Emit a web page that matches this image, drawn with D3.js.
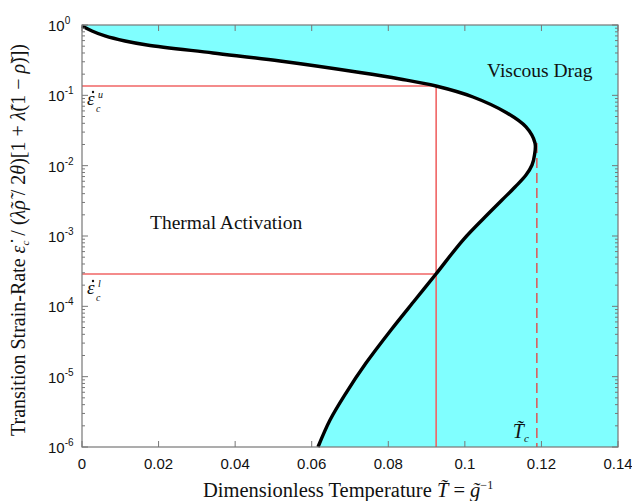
<!DOCTYPE html>
<html>
<head>
<meta charset="utf-8">
<script src="https://cdn.jsdelivr.net/npm/d3@7"></script>
<style>
	body { margin: 0; background: #fff; }
	.tick-lbl { font-family: "Liberation Sans", Arial, sans-serif; font-size: 15px; fill: #111; }
	.serif { font-family: "Liberation Serif", "Times New Roman", serif; fill: #111; }
</style>
</head>
<body>
<svg width="632" height="501"></svg>
<script>
// данные кривой перехода (T, strain-rate)
let curveT = [0, 0.00261, 0.00601, 0.01123, 0.01698, 0.03422, 0.05172, 0.07261, 0.08306, 0.09246, 0.10213,
	0.11101, 0.11597, 0.11832, 0.11819, 0.11754, 0.11597, 0.11310, 0.10970, 0.10630, 0.09951, 0.09246,
	0.08698, 0.08071, 0.07418, 0.06895, 0.06478, 0.06164];
let curveRate = [0.968, 0.822, 0.698, 0.592, 0.520, 0.400, 0.3077, 0.2112, 0.1707, 0.1357, 0.0947,
	0.0561, 0.0355, 0.0210, 0.01418, 0.01022, 0.00736, 0.00497, 0.00325, 0.00212, 0.000877, 0.000288,
	0.000123, 4.61e-5, 1.56e-5, 5.85e-6, 2.42e-6, 1e-6];
// ось X и Y
let xTicks = [0, 0.02, 0.04, 0.06, 0.08, 0.1, 0.12, 0.14];
let yExp = [0, -1, -2, -3, -4, -5, -6];
// опорные линии
let rateUpper = 0.1357;
let rateLower = 2.88e-4;
let tCross = 0.0925;
let tCrit = 0.1188;
let rateCrit = 0.021;

let marginX = 82;
let marginY = 25;
let width = 536;
let height = 422;

let svg = d3.select("svg");
let g = svg.append("g").attr("transform", `translate(${marginX}, ${marginY})`);

let scaleX = d3.scaleLinear().domain([0, 0.14]).range([0, width]);
let scaleY = d3.scaleLog().domain([1e-6, 1]).range([height, 0]);

let pts = curveT.map((t, i) => [t, curveRate[i]]);
let line = d3.line().curve(d3.curveCatmullRom).x(d => scaleX(d[0])).y(d => scaleY(d[1]));

// заливка области вязкого торможения
g.append("path")
	.attr("d", line(pts) + `L${scaleX(0.14)},${scaleY(1e-6)}L${scaleX(0.14)},${scaleY(1)}L${scaleX(0)},${scaleY(1)}Z`)
	.attr("fill", "#80ffff")
	.attr("stroke", "none");

// красные линии
let red = "#f06464";
g.append("line")
	.attr("x1", scaleX(0)).attr("x2", scaleX(tCross))
	.attr("y1", scaleY(rateUpper)).attr("y2", scaleY(rateUpper))
	.attr("stroke", red).attr("stroke-width", 1.6);
g.append("line")
	.attr("x1", scaleX(0)).attr("x2", scaleX(tCross))
	.attr("y1", scaleY(rateLower)).attr("y2", scaleY(rateLower))
	.attr("stroke", red).attr("stroke-width", 1.6);
g.append("line")
	.attr("x1", scaleX(tCross)).attr("x2", scaleX(tCross))
	.attr("y1", scaleY(rateUpper)).attr("y2", scaleY(1e-6))
	.attr("stroke", red).attr("stroke-width", 1.6);
g.append("line")
	.attr("x1", scaleX(tCrit)).attr("x2", scaleX(tCrit))
	.attr("y1", scaleY(rateCrit)).attr("y2", scaleY(1e-6))
	.attr("stroke", "#d86060").attr("stroke-width", 1.6)
	.attr("stroke-dasharray", "10,5");

// сама кривая
g.append("path")
	.attr("d", line(pts))
	.attr("fill", "none")
	.attr("stroke", "#000")
	.attr("stroke-width", 3.4)
	.attr("stroke-linejoin", "round");

// рамка
let frame = "#777";
g.append("rect")
	.attr("width", width).attr("height", height)
	.attr("fill", "none").attr("stroke", frame).attr("stroke-width", 1.2);

// засечки по X (снизу и сверху, внутрь)
g.selectAll(".xt")
	.data(xTicks)
	.enter()
	.append("path")
	.attr("d", d => `M${scaleX(d)},${height}v-6M${scaleX(d)},0v6`)
	.attr("stroke", frame);
g.selectAll(".xl")
	.data(xTicks)
	.enter()
	.append("text")
	.attr("class", "tick-lbl")
	.attr("font-size", 16)
	.attr("x", d => scaleX(d))
	.attr("y", height + 22)
	.attr("text-anchor", "middle")
	.text(d => d);

// засечки по Y (логарифмические)
let minor = [];
for (let e = -6; e < 0; e++)
	for (let m = 2; m < 10; m++) minor.push(m * Math.pow(10, e));
g.selectAll(".ym")
	.data(minor)
	.enter()
	.append("path")
	.attr("d", d => `M0,${scaleY(d)}h3M${width},${scaleY(d)}h-3`)
	.attr("stroke", frame);
g.selectAll(".yt")
	.data(yExp)
	.enter()
	.append("path")
	.attr("d", d => `M0,${scaleY(Math.pow(10, d))}h6M${width},${scaleY(Math.pow(10, d))}h-6`)
	.attr("stroke", frame);
let yl = g.selectAll(".yl")
	.data(yExp)
	.enter()
	.append("text")
	.attr("class", "tick-lbl")
	.attr("x", -34)
	.attr("y", d => scaleY(Math.pow(10, d)) + 6)
	.attr("text-anchor", "start");
yl.append("tspan").text("10");
yl.append("tspan").attr("dy", -7).attr("font-size", 10).text(d => d);

// подписи областей
g.append("text").attr("class", "serif")
	.attr("x", 405).attr("y", 52)
	.attr("font-size", 19.5)
	.text("Viscous Drag");
g.append("text").attr("class", "serif")
	.attr("x", 68).attr("y", 204)
	.attr("font-size", 19.5)
	.text("Thermal Activation");

// ε̇ верхняя и нижняя (точка сверху рисуется кружком)
function epsLabel(x, y, sup) {
	g.append("text").attr("class", "serif")
		.attr("x", x).attr("y", y).attr("font-size", 19).attr("font-style", "italic")
		.text("ε");
	g.append("circle")
		.attr("cx", x + 6).attr("cy", y - 13).attr("r", 1.2)
		.attr("fill", "#111");
	g.append("text").attr("class", "serif")
		.attr("x", x + 11).attr("y", y - 7).attr("font-size", 10).attr("font-style", "italic")
		.text(sup);
	g.append("text").attr("class", "serif")
		.attr("x", x + 9).attr("y", y + 7).attr("font-size", 10).attr("font-style", "italic")
		.text("c");
}
epsLabel(5, 80, "u");
epsLabel(5, 269, "l");

// T_c
let tc = g.append("text").attr("class", "serif")
	.attr("x", scaleX(tCrit) - 24).attr("y", height - 9).attr("font-size", 20);
tc.append("tspan").attr("font-style", "italic").text("T\u0303");
tc.append("tspan").attr("font-size", 11).attr("dy", 4).attr("font-style", "italic").text("c");

// подпись оси X
let xt = svg.append("text").attr("class", "serif")
	.attr("x", 203).attr("y", 497).attr("font-size", 20.5);
xt.append("tspan").text("Dimensionless Temperature ");
xt.append("tspan").attr("font-style", "italic").text("T\u0303");
xt.append("tspan").text(" = ");
xt.append("tspan").attr("font-style", "italic").text("g\u0303");
xt.append("tspan").attr("font-size", 12).attr("dy", -8).text("\u22121");

// подпись оси Y
let ytl = svg.append("text").attr("class", "serif")
	.attr("transform", "translate(25, 240) rotate(-90)")
	.attr("text-anchor", "middle")
	.attr("font-size", 20);
ytl.append("tspan").text("Transition Strain-Rate  ");
ytl.append("tspan").attr("font-style", "italic").text("ε\u0307");
ytl.append("tspan").attr("font-size", 11).attr("dy", 4).attr("font-style", "italic").text("c");
ytl.append("tspan").attr("dy", -4).text(" / (");
ytl.append("tspan").attr("font-style", "italic").text("λ\u0303ρ\u0303");
ytl.append("tspan").text(" / 2");
ytl.append("tspan").attr("font-style", "italic").text("θ");
ytl.append("tspan").text(")[1 + ");
ytl.append("tspan").attr("font-style", "italic").text("λ\u0303");
ytl.append("tspan").text("(1 \u2212 ");
ytl.append("tspan").attr("font-style", "italic").text("ρ\u0303");
ytl.append("tspan").text(")])");
</script>
</body>
</html>
